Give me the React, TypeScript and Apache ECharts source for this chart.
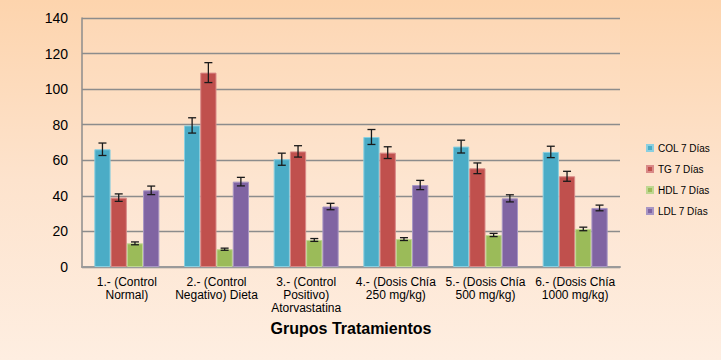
import React, { useEffect, useRef } from "react";
import * as echarts from "echarts";

const categories = [
  "1.- (Control\nNormal)",
  "2.- (Control\nNegativo) Dieta",
  "3.- (Control\nPositivo)\nAtorvastatina",
  "4.- (Dosis Chía\n250 mg/kg)",
  "5.- (Dosis Chía\n500 mg/kg)",
  "6.- (Dosis Chía\n1000 mg/kg)",
];
const seriesNames = ["COL 7 Días", "TG 7 Días", "HDL 7 Días", "LDL 7 Días"];
const colValues = [66.2, 79.6, 60.6, 73.1, 67.7, 64.7];
const colErrors = [3.5, 4.3, 3.4, 4.2, 3.6, 3.2];
const tgValues = [39.0, 109.3, 65.0, 64.3, 55.5, 51.0];
const tgErrors = [2.1, 5.6, 3.2, 3.3, 3.0, 2.8];
const hdlValues = [13.3, 10.0, 15.2, 15.7, 18.0, 21.4];
const hdlErrors = [0.8, 0.6, 0.8, 0.8, 0.9, 1.0];
const ldlValues = [43.1, 48.0, 34.0, 46.1, 38.6, 33.2];
const ldlErrors = [2.4, 2.4, 1.8, 2.6, 2.0, 1.6];
const colors = ["#4BACC6", "#C0504D", "#9BBB59", "#8064A2"];
const borders = ["#8ACFE0", "#D98A88", "#BFD792", "#A896C4"];

const allValues = [colValues, tgValues, hdlValues, ldlValues];
const allErrors = [colErrors, tgErrors, hdlErrors, ldlErrors];
const CATEGORY_GAP = 0.275;

export default function App() {
  const ref = useRef<HTMLDivElement>(null);
  useEffect(() => {
    document.body.style.margin = "0";
    const chart = echarts.init(ref.current!, null, { renderer: "svg" });
    const barSeries = seriesNames.map((name, k) => ({
      name,
      type: "bar",
      data: allValues[k],
      barGap: "0%",
      barCategoryGap: "27.5%",
      itemStyle: { color: colors[k], borderColor: borders[k], borderWidth: 1 },
      z: 2,
    }));
    const errSeries = seriesNames.map((name, k) => ({
      type: "custom",
      name: name + " err",
      data: allValues[k].map((v, i) => [i, v, allErrors[k][i]]),
      encode: { x: 0, y: 1 },
      z: 5,
      silent: true,
      renderItem: (params: any, api: any) => {
        const x = api.value(0);
        const v = api.value(1);
        const e = api.value(2);
        const band = api.size([1, 0])[0];
        const bw = (band * (1 - CATEGORY_GAP)) / 4;
        const cx = api.coord([x, v])[0] + (k - 1.5) * bw;
        const top = api.coord([x, v + e])[1];
        const bot = api.coord([x, v - e])[1];
        const half = 4;
        const style = { stroke: "#1a1a1a", lineWidth: 1.3 };
        return {
          type: "group",
          children: [
            { type: "line", shape: { x1: cx, y1: top, x2: cx, y2: bot }, style },
            { type: "line", shape: { x1: cx - half, y1: top, x2: cx + half, y2: top }, style },
            { type: "line", shape: { x1: cx - half, y1: bot, x2: cx + half, y2: bot }, style },
          ],
        };
      },
    }));
    chart.setOption({
      animation: false,
      backgroundColor: "transparent",
      textStyle: { fontFamily: "Liberation Sans" },
      grid: {
        left: 82,
        right: 101,
        top: 18,
        bottom: 93,
        show: true,
        borderWidth: 0,
        backgroundColor: "rgba(255,255,255,0.07)",
      },
      legend: {
        data: seriesNames,
        orient: "vertical",
        left: 641,
        top: 138,
        itemWidth: 6,
        itemHeight: 6,
        itemGap: 11,
        icon: "rect",
        textStyle: { fontSize: 10, color: "#000", fontFamily: "Liberation Sans" },
      },
      xAxis: {
        type: "category",
        data: categories,
        name: "Grupos Tratamientos",
        nameLocation: "middle",
        nameGap: 53,
        nameTextStyle: { fontSize: 16, fontWeight: "bold", color: "#000" },
        axisLine: { lineStyle: { color: "#9a9a9a", width: 2 } },
        axisTick: { show: false },
        axisLabel: { fontSize: 12, color: "#000", lineHeight: 13, margin: 8, interval: 0 },
      },
      yAxis: {
        type: "value",
        min: 0,
        max: 140,
        interval: 20,
        axisLine: { show: true, lineStyle: { color: "#8c8c8c", width: 1.5 } },
        axisTick: { show: false },
        axisLabel: { fontSize: 14, color: "#000", margin: 14 },
        splitLine: { lineStyle: { color: "#8c8c8c", width: 1.3 } },
      },
      series: [...barSeries, ...errSeries],
    });
    return () => chart.dispose();
  }, []);
  return (
    <div
      ref={ref}
      style={{
        width: 721,
        height: 360,
        background: "linear-gradient(to bottom, #FDD4AD 0%, #FDE3CD 50%, #FEEEE1 100%)",
      }}
    />
  );
}
